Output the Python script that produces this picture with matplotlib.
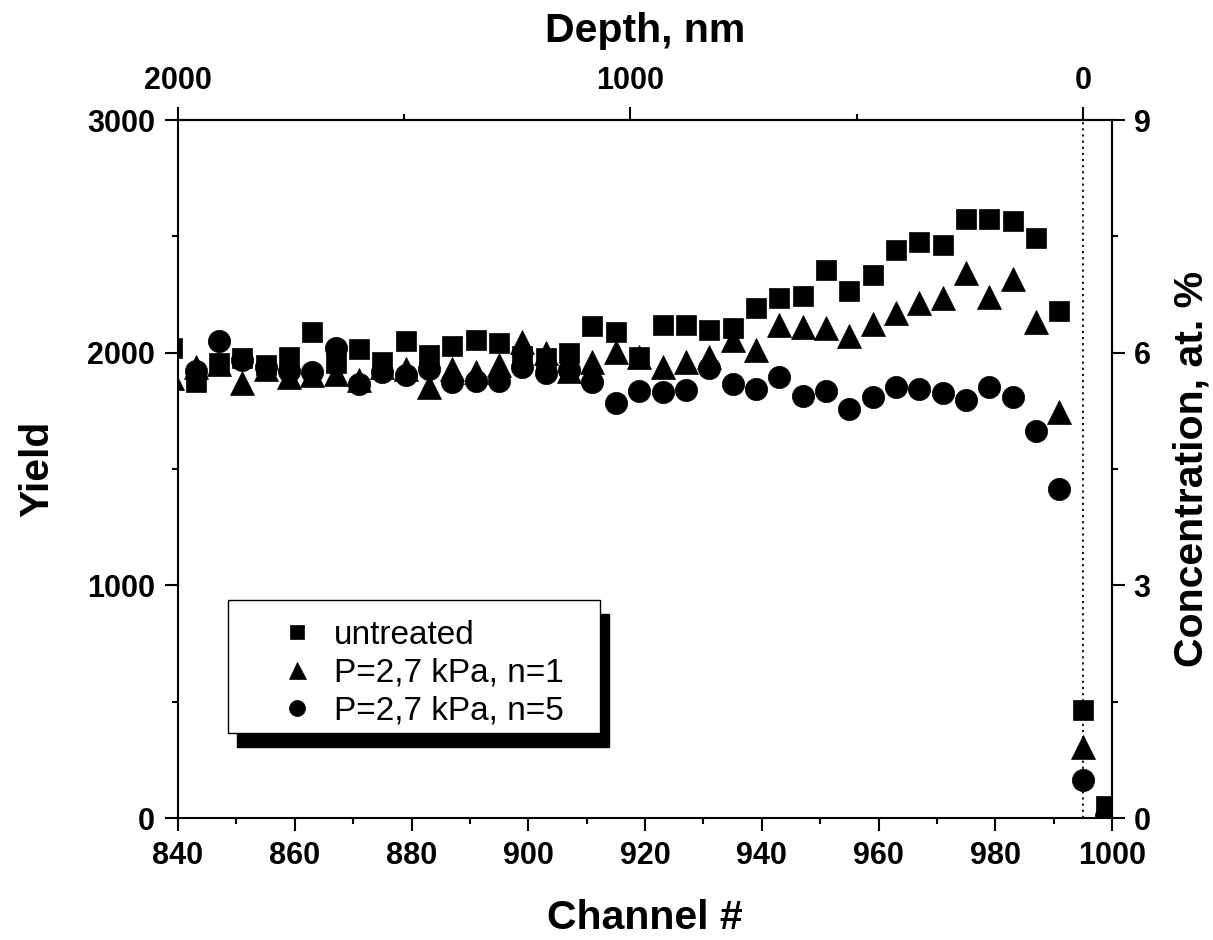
import numpy as np
import matplotlib

matplotlib.use("Agg")
import matplotlib.pyplot as plt
from matplotlib.patches import Rectangle
from matplotlib.ticker import MultipleLocator, FixedLocator

plt.rcParams["font.family"] = ["Liberation Sans", "DejaVu Sans"]
plt.rcParams["font.weight"] = "bold"

# channel numbers (every 4th channel)
channel = [839, 843, 847, 851, 855, 859, 863, 867, 871, 875, 879, 883, 887, 891,
           895, 899, 903, 907, 911, 915, 919, 923, 927, 931, 935, 939, 943, 947,
           951, 955, 959, 963, 967, 971, 975, 979, 983, 987, 991, 995, 999]

untreated = [2020, 1875, 1955, 1977, 1945, 1983, 2090, 1955, 2014, 1961, 2050, 1990,
             2029, 2056, 2043, 1985, 1977, 1998, 2116, 2090, 1983, 2119, 2119, 2097,
             2105, 2191, 2235, 2242, 2357, 2266, 2335, 2443, 2477, 2463, 2573, 2573,
             2565, 2493, 2178, 464, 52]

p27_n1 = [1890, 1940, 1950, 1871, 1930, 1897, 1905, 1910, 1883, 1940, 1930, 1852,
          1930, 1918, 1945, 2047, 1998, 1920, 1961, 2004, 1983, 1940, 1961, 1983,
          2054, 2011, 2119, 2112, 2105, 2072, 2122, 2172, 2212, 2234, 2341, 2241,
          2317, 2130, 1746, 307, 15]

p27_n5 = [np.nan, 1920, 2051, 1970, 1940, 1920, 1918, 2021, 1865, 1918, 1904, 1930,
          1875, 1880, 1880, 1938, 1912, 1925, 1874, 1783, 1837, 1832, 1840, 1933,
          1865, 1842, 1894, 1815, 1837, 1757, 1808, 1854, 1844, 1825, 1797, 1854,
          1808, 1665, 1413, 163, 10]

labels = ["untreated", "P=2,7 kPa, n=1", "P=2,7 kPa, n=5"]

surface_channel = 995
nm_per_channel = 2000 / 155
yield_per_percent = 3000 / 9


def ch2depth(ch):
    return (surface_channel - np.asarray(ch, dtype=float)) * nm_per_channel


def depth2ch(d):
    return surface_channel - np.asarray(d, dtype=float) / nm_per_channel


W, H = 1213, 940
fig = plt.figure(figsize=(W / 100, H / 100), dpi=100)
ax = fig.add_axes([178 / W, 1 - 818 / H, (1112 - 178) / W, (818 - 120) / H])

ax.plot(channel, untreated, "s", color="k", ms=14.5, mew=0.5, label=labels[0], zorder=3)
ax.plot(channel, p27_n1, "^", color="k", ms=17, mew=0.5, label=labels[1], zorder=3)
ax.plot(channel, p27_n5, "o", color="k", ms=16, mew=0.5, label=labels[2], zorder=3)
ax.axvline(surface_channel, color="k", ls=(0, (1.2, 2.2)), lw=1.3, zorder=2)

ax.set_xlim(840, 1000)
ax.set_ylim(0, 3000)
ax.xaxis.set_major_locator(MultipleLocator(20))
ax.xaxis.set_minor_locator(MultipleLocator(10))
ax.yaxis.set_major_locator(MultipleLocator(1000))
ax.yaxis.set_minor_locator(MultipleLocator(500))

tick_kw = dict(direction="out", width=1.5, labelsize=22)
ax.tick_params(which="major", length=9.5, pad=7, **tick_kw)
ax.tick_params(which="minor", length=4.5, width=1.5, direction="out")
for s in ax.spines.values():
    s.set_linewidth(1.5)

ax.set_xlabel("Channel #", fontsize=29.5, fontweight="bold")
ax.xaxis.set_label_coords(0.5, -0.116)
ax.set_ylabel("Yield", fontsize=29.5, fontweight="bold")
ax.yaxis.set_label_coords(-0.13, 0.5)

top = ax.secondary_xaxis("top", functions=(ch2depth, depth2ch))
top.xaxis.set_major_locator(FixedLocator([0, 1000, 2000]))
top.xaxis.set_minor_locator(FixedLocator([500, 1500]))
top.tick_params(which="major", length=9.5, pad=8, **tick_kw)
top.tick_params(which="minor", length=4.5, width=1.5, direction="out")
top.spines["top"].set_linewidth(1.5)
top.set_xlabel("Depth, nm", fontsize=29.5, fontweight="bold", labelpad=17)

right = ax.secondary_yaxis("right", functions=(lambda y: np.asarray(y) / yield_per_percent,
                                               lambda c: np.asarray(c) * yield_per_percent))
right.yaxis.set_major_locator(FixedLocator([0, 3, 6, 9]))
right.yaxis.set_minor_locator(FixedLocator([1.5, 4.5, 7.5]))
right.tick_params(which="major", length=9.5, pad=6, **tick_kw)
right.tick_params(which="minor", length=4.5, width=1.5, direction="out")
right.spines["right"].set_linewidth(1.5)
right.set_ylabel("Concentration, at. %", fontsize=29.5, fontweight="bold", labelpad=16)

# legend box with a solid drop shadow
bx0, bx1 = (228 - 178) / 934, (600 - 178) / 934
by0, by1 = (818 - 733) / 698, (818 - 600) / 698
dx, dy = 9 / 934, 14 / 698
ax.add_patch(Rectangle((bx0 + dx, by0 - dy), bx1 - bx0, by1 - by0, transform=ax.transAxes,
                       facecolor="k", edgecolor="k", zorder=4, clip_on=False))
ax.add_patch(Rectangle((bx0, by0), bx1 - bx0, by1 - by0, transform=ax.transAxes,
                       facecolor="white", edgecolor="k", lw=1.0, zorder=4.5, clip_on=False))
leg = ax.legend(loc="center left", bbox_to_anchor=((274 - 178) / 934, (818 - 673) / 698),
                frameon=False, borderpad=0, borderaxespad=0, handlelength=1.4,
                handletextpad=0.4, labelspacing=0.2, markerscale=0.72,
                prop={"size": 24, "weight": "normal"})
leg.set_zorder(5)

fig.savefig("out.png", dpi=100)
